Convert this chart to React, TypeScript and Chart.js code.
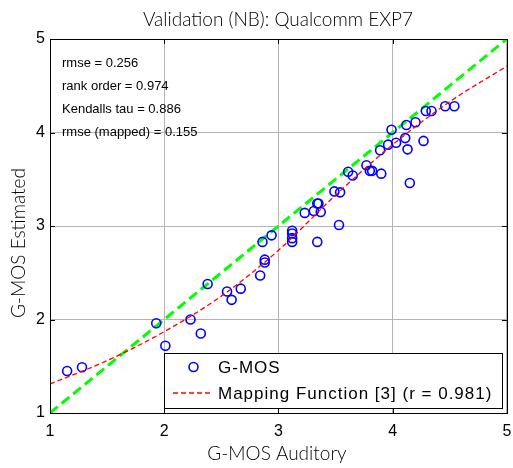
import React, { useEffect, useRef } from "react";
import { Chart, registerables } from "chart.js";

Chart.register(...registerables);

const titleText = "Validation (NB): Qualcomm EXP7";
const xTitle = "G-MOS Auditory";
const yTitle = "G-MOS Estimated";
const statsLines = [
  "rmse = 0.256",
  "rank order = 0.974",
  "Kendalls tau = 0.886",
  "rmse (mapped) = 0.155",
];
const legendLabels = ["G-MOS", "Mapping Function [3] (r = 0.981)"];
const tickValues = [1, 2, 3, 4, 5];

const gmosX = [
  1.15, 1.28, 1.93, 2.01, 2.23, 2.32, 2.38, 2.55, 2.59, 2.67, 2.84, 2.86, 2.88, 2.88, 2.94,
  3.12, 3.12, 3.12, 3.12, 3.34, 3.53, 3.23, 3.31, 3.37, 3.34, 3.35, 3.49, 3.54, 3.61, 3.65,
  3.77, 3.80, 3.82, 3.90, 4.15, 3.89, 3.96, 4.03, 4.11, 4.13, 3.99, 4.12, 4.20, 4.27, 4.29,
  4.34, 4.46, 4.54,
];
const gmosY = [
  1.45, 1.49, 1.96, 1.72, 2.00, 1.85, 2.38, 2.30, 2.21, 2.33, 2.47, 2.83, 2.64, 2.61, 2.90,
  2.95, 2.92, 2.87, 2.83, 2.83, 3.01, 3.14, 3.16, 3.15, 3.24, 3.24, 3.37, 3.36, 3.58, 3.54,
  3.65, 3.59, 3.59, 3.56, 3.46, 3.81, 3.87, 3.89, 3.94, 3.82, 4.03, 4.08, 4.11, 3.91, 4.23,
  4.23, 4.28, 4.28,
];

const mapX = [1, 1.5, 2, 2.5, 3, 3.5, 4, 4.5, 5];
const mapY = [1.31, 1.56, 1.87, 2.25, 2.74, 3.33, 3.87, 4.33, 4.71];

const identX = [1, 5];
const identY = [1, 5];

const decorPlugin = {
  id: "decor",
  beforeDraw(chart: any) {
    const ctx = chart.ctx;
    ctx.save();
    ctx.fillStyle = "#ffffff";
    ctx.fillRect(0, 0, chart.width, chart.height);
    ctx.restore();
  },
  afterDraw(chart: any) {
    const ctx = chart.ctx;
    const a = chart.chartArea;
    const xs = chart.scales.x;
    const ys = chart.scales.y;
    ctx.save();
    // box
    ctx.strokeStyle = "#000";
    ctx.lineWidth = 1;
    ctx.strokeRect(Math.round(a.left) + 0.5, Math.round(a.top) + 0.5, Math.round(a.right - a.left), Math.round(a.bottom - a.top));
    // inner ticks
    ctx.beginPath();
    tickValues.forEach((v) => {
      const px = Math.round(xs.getPixelForValue(v)) + 0.5;
      ctx.moveTo(px, a.bottom);
      ctx.lineTo(px, a.bottom - 5);
      ctx.moveTo(px, a.top);
      ctx.lineTo(px, a.top + 5);
      const py = Math.round(ys.getPixelForValue(v)) + 0.5;
      ctx.moveTo(a.left, py);
      ctx.lineTo(a.left + 5, py);
      ctx.moveTo(a.right, py);
      ctx.lineTo(a.right - 5, py);
    });
    ctx.stroke();

    // x tick labels (from the scale's ticks)
    ctx.fillStyle = "#000";
    ctx.font = "16px 'Liberation Sans'";
    ctx.textAlign = "center";
    ctx.textBaseline = "middle";
    xs.ticks.forEach((t: any) => {
      ctx.fillText(String(t.value), xs.getPixelForValue(t.value), a.bottom + 19);
    });

    // title
    ctx.font = "300 19px Lato";
    ctx.fillText(titleText, 278, 20);
    // x title
    ctx.font = "300 19px Lato";
    ctx.fillText(xTitle, 277, 454);
    // y title
    ctx.save();
    ctx.translate(19, 243);
    ctx.rotate(-Math.PI / 2);
    ctx.fillText(yTitle, 0, 0);
    ctx.restore();

    // stats
    ctx.font = "13px 'Liberation Sans'";
    ctx.textAlign = "left";
    statsLines.forEach((s, i) => {
      ctx.fillText(s, a.left + 12, 63 + i * 23.3);
    });

    // legend
    const lx = 164.5, ly = 353.5, lw = 338, lh = 55;
    ctx.fillStyle = "#fff";
    ctx.fillRect(lx, ly, lw, lh);
    ctx.strokeStyle = "#000";
    ctx.lineWidth = 1;
    ctx.strokeRect(lx, ly, lw, lh);
    ctx.beginPath();
    ctx.arc(193.5, 367, 4.5, 0, Math.PI * 2);
    ctx.strokeStyle = "#0000ff";
    ctx.lineWidth = 1.6;
    ctx.stroke();
    ctx.beginPath();
    ctx.setLineDash([5, 3]);
    ctx.strokeStyle = "#ff0000";
    ctx.lineWidth = 1.3;
    ctx.moveTo(173, 393);
    ctx.lineTo(213, 393);
    ctx.stroke();
    ctx.setLineDash([]);
    ctx.fillStyle = "#000";
    ctx.font = "17px 'Liberation Sans'";
    (ctx as any).letterSpacing = "1px";
    ctx.textBaseline = "middle";
    ctx.fillText(legendLabels[0], 218, 368);
    ctx.fillText(legendLabels[1], 218, 394);
    (ctx as any).letterSpacing = "0px";
    ctx.restore();
  },
};

export default function App() {
  const ref = useRef<HTMLCanvasElement | null>(null);
  useEffect(() => {
    document.body.style.margin = "0";
    const canvas = ref.current!;
    const pts = gmosX.map((x, i) => ({ x, y: gmosY[i] }));
    const mapPts = mapX.map((x, i) => ({ x, y: mapY[i] }));
    const idPts = identX.map((x, i) => ({ x, y: identY[i] }));
    const tickFont = { family: "'Liberation Sans'", size: 16 };
    const chart = new Chart(canvas, {
      type: "scatter",
      data: {
        datasets: [
          {
            label: legendLabels[0],
            data: pts,
            showLine: false,
            pointStyle: "circle",
            pointRadius: 4.5,
            pointBorderWidth: 1.6,
            pointBorderColor: "#0000ff",
            pointBackgroundColor: "rgba(0,0,0,0)",
            order: 1,
          } as any,
          {
            label: legendLabels[1],
            data: mapPts,
            showLine: true,
            borderColor: "#ff0000",
            borderWidth: 1.3,
            borderDash: [5, 3],
            pointRadius: 0,
            cubicInterpolationMode: "monotone",
            order: 0,
          } as any,
          {
            label: "identity",
            data: idPts,
            showLine: true,
            borderColor: "#00ff00",
            borderWidth: 3,
            borderDash: [10, 5],
            pointRadius: 0,
            order: 2,
          } as any,
        ],
      },
      options: {
        animation: false,
        responsive: false,
        devicePixelRatio: 1,
        layout: { padding: { top: 39, right: 5, left: 0, bottom: 0 } },
        plugins: { legend: { display: false }, tooltip: { enabled: false } },
        scales: {
          x: {
            type: "linear",
            min: 1,
            max: 5,
            ticks: { stepSize: 1, display: false },
            grid: { color: "#b4b4b4", drawTicks: false },
            border: { display: false },
            afterFit: (s: any) => { s.height = 55; },
          },
          y: {
            type: "linear",
            min: 1,
            max: 5,
            ticks: { stepSize: 1, color: "#000", font: tickFont, padding: 5 },
            grid: { color: "#b4b4b4", drawTicks: false },
            border: { display: false },
            afterFit: (s: any) => { s.width = 50; },
          },
        },
      } as any,
      plugins: [decorPlugin],
    });
    return () => chart.destroy();
  }, []);
  return <canvas ref={ref} width={513} height={468} style={{ display: "block", width: 513, height: 468 }} />;
}
